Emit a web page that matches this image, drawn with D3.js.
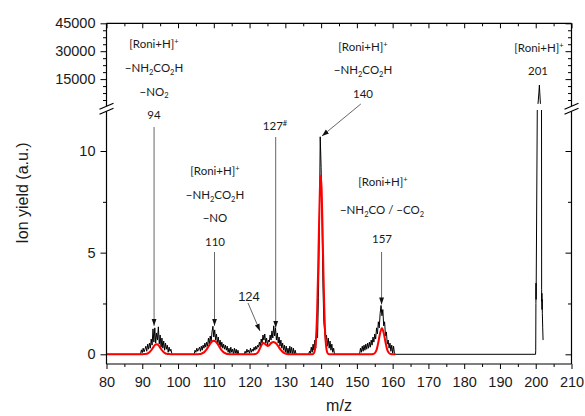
<!DOCTYPE html>
<html>
<head>
<meta charset="utf-8">
<style>
    body { margin: 0; padding: 0; background: #fff; }
    .tick text { font-family: "Liberation Sans", Arial, sans-serif; font-size: 14.5px; fill: #1a1a1a; }
    .tick line { stroke: #000; stroke-width: 1; }
    .frame { stroke: #000; stroke-width: 1.2; fill: none; }
    .note { font-family: Lato, "Open Sans", sans-serif; font-size: 11.5px; fill: #1a1a1a; }
    .title { font-family: "Liberation Sans", Arial, sans-serif; font-size: 16px; fill: #1a1a1a; }
</style>
<script src="https://d3js.org/d3.v7.min.js"></script>
</head>
<body>
<svg id="chart" width="585" height="416"></svg>
<script>
    // tick values
    var xTicks = [80, 90, 100, 110, 120, 130, 140, 150, 160, 170, 180, 190, 200, 210];
    var xMinor = [85, 95, 105, 115, 125, 135, 145, 155, 165, 175, 185, 195, 205];
    var lowTicks = [0, 5, 10];
    var lowMinor = [2.5, 7.5];
    var highTicks = [15000, 30000, 45000];
    var highMinor = [3750, 7500, 11250, 18750, 22500, 26250, 33750, 37500, 41250];

    // raw spectrum, sampled every 0.25 m/z inside each fragment group
    var step = 0.25;
    var start94 = 89.5;
    var vals94 = [0, 0.22, 0.08, 0.3, 0.12, 0.25, 0.4, 0.15, 0.5, 0.25, 0.55, 0.3, 0.75, 0.45, 1.25, 0.6,
        1.3, 0.55, 1.05, 0.7, 1.35, 0.5, 0.95, 0.35, 0.8, 0.3, 0.65, 0.2, 0.55, 0.25, 0.45, 0.1,
        0.35, 0.15, 0.25, 0.05, 0];
    var start110 = 104.5;
    var vals110 = [0, 0.2, 0.1, 0.3, 0.15, 0.25, 0.35, 0.15, 0.4, 0.2, 0.45, 0.3, 0.55, 0.35, 0.6, 0.4,
        0.8, 0.5, 0.9, 0.6, 1.1, 1.38, 0.85, 1.2, 0.7, 1.0, 0.55, 0.85, 0.45, 0.7, 0.35, 0.6,
        0.3, 0.5, 0.25, 0.45, 0.2, 0.4, 0.1, 0.3, 0.05, 0.35, 0.1, 0.25, 0, 0.3, 0.05, 0.25, 0, 0.2, 0];
    var start125 = 118.5;
    var vals125 = [0, 0.15, 0.05, 0.25, 0.1, 0.2, 0.05, 0.3, 0.1, 0.25, 0.15, 0.35, 0.2, 0.4, 0.25, 0.45,
        0.35, 0.6, 0.4, 0.75, 0.55, 0.95, 0.7, 1.0, 0.55, 0.8, 0.45, 0.7, 0.6, 0.95, 0.7, 1.15,
        0.8, 1.4, 0.9, 1.3, 0.7, 1.05, 0.55, 0.85, 0.4, 0.7, 0.3, 0.55, 0.2, 0.45, 0.1, 0.4,
        0.05, 0.3, 0, 0.4, 0.05, 0.35, 0, 0.3, 0, 0.2, 0];
    var start140 = 136.5;
    var vals140 = [0, 0.15, 0.05, 0.35, 0.1, 0.5, 0.2, 0.7, 0.3, 1.3, 0.8, 2.8, 6.0, 10.7, 9.2, 6.5,
        3.5, 1.6, 1.1, 0.6, 0.95, 0.4, 0.8, 0.3, 0.65, 0.2, 0.5, 0.1, 0.3, 0];
    var start157 = 150.75;
    var vals157 = [0, 0.3, 0.1, 0.4, 0.15, 0.45, 0.2, 0.5, 0.25, 0.55, 0.3, 0.6, 0.35, 0.7, 0.45, 0.85,
        0.6, 1.0, 0.75, 1.3, 1.0, 1.6, 1.3, 2.0, 2.4, 1.9, 2.2, 1.4, 1.6, 0.9, 1.1, 0.5,
        0.7, 0.3, 0.55, 0.15, 0.45, 0.05, 0.4, 0.05, 0];
    // parent ion [m/z, yield]
    var peak201 = [[199.95, 0], [200.0, 0.2], [200.05, 2.5], [200.08, 3.5], [200.1, 2.7], [200.13, 3.3],
        [200.45, 12.5], [200.65, 2000], [200.9, 8000], [201.02, 11800], [201.12, 8000], [201.3, 2000],
        [201.62, 12.5], [201.65, 3.2], [201.68, 2.6], [201.72, 3.0], [201.76, 2.2], [201.8, 2.7],
        [201.85, 2.0], [201.95, 1.3], [202.05, 0.7]];

    // gaussian fit (red) [m/z, yield]
    var fit = [[80, 0], [89.5, 0], [90.5, 0.01], [91, 0.02], [91.5, 0.04], [92, 0.1], [92.5, 0.2], [93, 0.33],
        [93.5, 0.45], [94, 0.5], [94.5, 0.45], [95, 0.33], [95.5, 0.2], [96, 0.1], [96.5, 0.04], [97, 0.02],
        [97.5, 0.01], [98.5, 0],
        [105, 0], [105.5, 0.004], [106, 0.011], [106.5, 0.029], [107, 0.067], [107.5, 0.14], [108, 0.24],
        [108.5, 0.38], [109, 0.52], [109.5, 0.63], [110, 0.67], [110.5, 0.63], [111, 0.52], [111.5, 0.38],
        [112, 0.24], [112.5, 0.14], [113, 0.067], [113.5, 0.029], [114, 0.011], [114.5, 0.004], [115, 0],
        [121, 0], [121.5, 0.01], [122, 0.04], [122.5, 0.14], [123, 0.33], [123.5, 0.5], [123.9, 0.55],
        [124.5, 0.48], [125, 0.41], [125.5, 0.45], [126, 0.55], [126.7, 0.61], [127.5, 0.52], [128, 0.4],
        [128.5, 0.27], [129, 0.16], [129.5, 0.08], [130, 0.035], [130.5, 0.012], [131.2, 0],
        [137.5, 0], [137.9, 0.034], [138.15, 0.12], [138.4, 0.39], [138.65, 1.0], [138.9, 2.19],
        [139.15, 4.03], [139.4, 6.22], [139.65, 8.07], [139.9, 8.8], [140.15, 8.07], [140.4, 6.22],
        [140.65, 4.03], [140.9, 2.19], [141.15, 1.0], [141.4, 0.39], [141.65, 0.12], [141.9, 0.034], [142.3, 0],
        [154, 0], [154.5, 0.01], [155, 0.056], [155.5, 0.22], [156, 0.59], [156.5, 1.05], [157, 1.28],
        [157.5, 1.05], [158, 0.59], [158.5, 0.22], [159, 0.056], [159.5, 0.01], [160, 0], [160.8, 0]];

    function group(start, vals) {
        return vals.map(function(v, i) { return [start + i * step, v]; });
    }
    var black = [[80, 0]].concat(group(start94, vals94), group(start110, vals110), group(start125, vals125),
        group(start140, vals140), group(start157, vals157), peak201);

    var svg = d3.select("#chart");
    var L = 106.5, R = 571.5, T = 23.3, B = 364;
    var x = d3.scaleLinear().domain([80, 210]).range([L, R]);
    var yLo = d3.scaleLinear().domain([0, 10]).range([354.3, 151]);
    var yUp = d3.scaleLinear().domain([0, 45000]).range([107, T]);

    var defs = svg.append("defs");
    defs.append("clipPath").attr("id", "clipLo").append("rect")
        .attr("x", L).attr("y", 110).attr("width", R - L).attr("height", B - 110);
    defs.append("clipPath").attr("id", "clipUp").append("rect")
        .attr("x", L).attr("y", T).attr("width", R - L).attr("height", 104 - T);
    defs.append("marker").attr("id", "head").attr("viewBox", "0 0 10 10")
        .attr("refX", 10).attr("refY", 5).attr("markerWidth", 7).attr("markerHeight", 7)
        .attr("markerUnits", "userSpaceOnUse").attr("orient", "auto")
        .append("path").attr("d", "M0,1.5L10,5L0,8.5Z").attr("fill", "#111");

    // spectrum
    var lineLo = d3.line().x(function(d) { return x(d[0]); }).y(function(d) { return yLo(d[1]); });
    var lineUp = d3.line().x(function(d) { return x(d[0]); }).y(function(d) { return yUp(d[1]); });
    svg.append("path").attr("clip-path", "url(#clipLo)").attr("d", lineLo(black))
        .attr("fill", "none").attr("stroke", "#000").attr("stroke-width", 1);
    svg.append("path").attr("clip-path", "url(#clipUp)").attr("d", lineUp(black))
        .attr("fill", "none").attr("stroke", "#000").attr("stroke-width", 1);
    svg.append("path").attr("d", lineLo.curve(d3.curveMonotoneX)(fit))
        .attr("fill", "none").attr("stroke", "#ff0000").attr("stroke-width", 2);

    // axes
    function ax(axis, tr, vals, size, labels, pad) {
        var g = svg.append("g").attr("transform", tr)
            .call(axis.tickValues(vals).tickSize(size).tickSizeOuter(0).tickPadding(pad || 3)
                .tickFormat(labels ? d3.format("d") : ""));
        g.select(".domain").remove();
        return g;
    }
    ax(d3.axisBottom(x), "translate(0," + B + ")", xTicks, 5, true, 8);
    ax(d3.axisBottom(x), "translate(0," + B + ")", xMinor, 3, false);
    ax(d3.axisTop(x), "translate(0," + T + ")", xTicks, -5, false);
    ax(d3.axisTop(x), "translate(0," + T + ")", xMinor, -3, false);
    ax(d3.axisLeft(yLo), "translate(" + L + ",0)", lowTicks, 6, true, 5);
    ax(d3.axisLeft(yLo), "translate(" + L + ",0)", lowMinor, 3.5, false);
    ax(d3.axisLeft(yUp), "translate(" + L + ",0)", highTicks, 6, true, 5);
    ax(d3.axisLeft(yUp), "translate(" + L + ",0)", highMinor, 3.5, false);
    ax(d3.axisRight(yLo), "translate(" + R + ",0)", lowTicks, -6, false);
    ax(d3.axisRight(yLo), "translate(" + R + ",0)", lowMinor, -3.5, false);
    ax(d3.axisRight(yUp), "translate(" + R + ",0)", highTicks, -6, false);
    ax(d3.axisRight(yUp), "translate(" + R + ",0)", highMinor, -3.5, false);

    // frame with broken y axes
    var gapTop = 106.3, gapBot = 111.3;
    [L, R].forEach(function(px) {
        svg.append("line").attr("class", "frame").attr("x1", px).attr("x2", px).attr("y1", T).attr("y2", gapTop);
        svg.append("line").attr("class", "frame").attr("x1", px).attr("x2", px).attr("y1", gapBot).attr("y2", B);
        [gapTop, gapBot].forEach(function(py) {
            svg.append("line").attr("class", "frame")
                .attr("x1", px - 7).attr("y1", py + 3).attr("x2", px + 7).attr("y2", py - 3);
        });
    });
    svg.append("line").attr("class", "frame").attr("x1", L).attr("x2", R).attr("y1", T).attr("y2", T);
    svg.append("line").attr("class", "frame").attr("x1", L).attr("x2", R).attr("y1", B).attr("y2", B);

    svg.append("text").attr("class", "title").attr("text-anchor", "middle")
        .attr("transform", "translate(28,193) rotate(-90)").text("Ion yield (a.u.)");
    svg.append("text").attr("class", "title").attr("text-anchor", "middle")
        .attr("x", (L + R) / 2).attr("y", 411).text("m/z");

    // annotations: parts are text, or [text, shift] for sub/superscripts
    function note(cx, cy, parts, font) {
        var t = svg.append("text").attr("class", "note").attr("x", cx).attr("y", cy).attr("text-anchor", "middle");
        if (font) t.style("font-family", font.family).style("font-size", font.size);
        var shift = 0;
        parts.forEach(function(p) {
            var s = typeof p === "string" ? [p, 0] : p;
            t.append("tspan").attr("dy", s[1] - shift).style("font-size", s[1] ? "7.5px" : null).text(s[0]);
            shift = s[1];
        });
    }
    var ion = ["[Roni+H]", ["+", -4]];
    var nh2co2h = ["\u2212NH", ["2", 2.5], "CO", ["2", 2.5], "H"];

    note(154, 48, ion); note(154, 72, nh2co2h); note(154, 95.5, ["\u2212NO", ["2", 2.5]]); note(154, 119, ["94"]);
    note(215, 175, ion); note(215, 199, nh2co2h); note(215, 222, ["\u2212NO"]); note(215, 246, ["110"]);
    note(363, 51, ion); note(363, 74, nh2co2h); note(363, 98, ["140"]);
    note(383, 186, ion); note(382, 214, ["\u2212NH", ["2", 2.5], "CO / \u2212CO", ["2", 2.5]]); note(382, 243, ["157"]);
    note(539, 52, ion); note(538, 75, ["201"]);
    note(275, 130, ["127", ["#", -4]]);
    note(249, 301, ["124"], { family: '"Liberation Sans", Arial, sans-serif', size: "13px" });

    // arrows: [m/z start, y start (px), m/z tip, yield at tip]
    var arrows = [[93.3, 127, 93.3, 1.4], [110.2, 252, 110.2, 1.4], [119.56, 303, 122.9, 1.15],
        [127.3, 137, 127.3, 1.3], [151.1, 104, 140.25, 10.74], [156.9, 252, 156.9, 2.45]];
    arrows.forEach(function(a) {
        svg.append("line").attr("x1", x(a[0])).attr("y1", a[1]).attr("x2", x(a[2])).attr("y2", yLo(a[3]))
            .attr("stroke", "#555").attr("stroke-width", 0.9).attr("marker-end", "url(#head)");
    });
</script>
</body>
</html>
